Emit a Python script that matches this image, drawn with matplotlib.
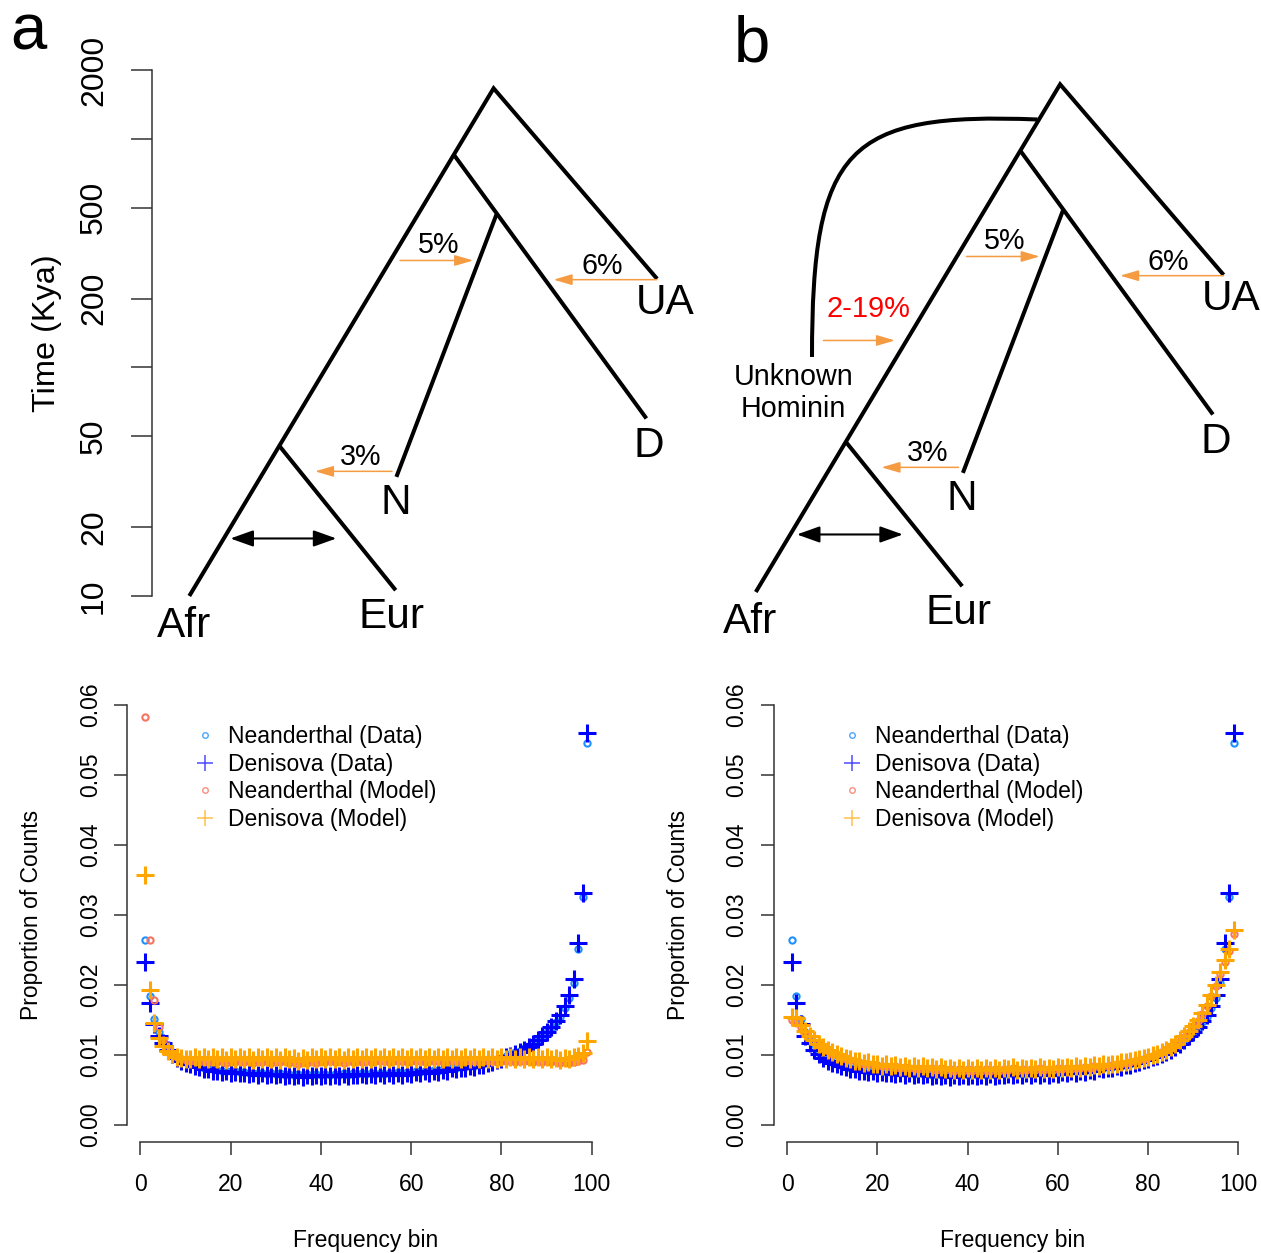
import matplotlib
matplotlib.use("Agg")
import matplotlib.pyplot as plt
from matplotlib.lines import Line2D
from matplotlib.patches import PathPatch
from matplotlib.path import Path
from matplotlib.ticker import NullLocator

plt.rcParams['font.family'] = ['Liberation Sans', 'DejaVu Sans']

# ---------------- tree diagram data ----------------
# horizontal position (arbitrary units) and time in Kya
node_names = ["Root", "Node1", "UA", "D", "Nsplit", "N", "Afr", "Eursplit", "Eur"]
node_x = [341.6, 301.6, 505.1, 494.4, 344.4, 244.4, 37.3, 127.3, 243.7]
node_time = [1663, 855, 244, 59.8, 466, 33.2, 10, 45.4, 10.6]
tree_paths = [["UA", "Root", "Afr"], ["Node1", "D"], ["Nsplit", "N"], ["Eursplit", "Eur"]]

tip_labels = ["UA", "D", "N", "Eur", "Afr"]
tip_label_x = [513, 497, 243.5, 240, 32]
tip_label_time = [190.5, 45.3, 25.6, 8.13, 7.39]

mig_labels = ["5%", "6%", "3%"]
mig_from_x = [248, 505, 240]
mig_to_x = [321.2, 401.6, 163]
mig_time = [293.6, 242, 35.1]
mig_label_x = [286.6, 449.8, 208.7]
mig_label_time = [343, 278.6, 40.6]

gene_flow_x = [78.4, 184.4]
gene_flow_time = 17.85

# panel b only: unknown hominin lineage
ghost_curve_x = [319.0, 128.0, 93.5, 93.5]
ghost_curve_time = [1166.8, 1258, 880.0, 106.7]
ghost_mig_label = "2-19%"
ghost_mig_x = [104.9, 176.5]
ghost_mig_time = 126
ghost_label_x, ghost_label_time = 149.5, 173
ghost_name = "Unknown\nHominin"
ghost_name_x, ghost_name_time = 75.2, 74.2

time_ticks = [10, 20, 50, 100, 200, 500, 1000, 2000]
time_tick_labels = ["10", "20", "50", "", "200", "500", "", "2000"]

# ---------------- site frequency spectrum data ----------------
freq_bin = list(range(1, 100))

neand_data = [
    .0265, .0184, .0152, .0133, .0120, .0110, .0103, .0098, .0094, .0090,
    .0088, .0086, .0084, .0082, .0081, .0080, .0079, .0078, .0078, .0077,
    .0077, .0076, .0076, .0075, .0075, .0074, .0075, .0073, .0074, .0073,
    .0074, .0072, .0073, .0072, .0073, .0072, .0073, .0072, .0073, .0072,
    .0073, .0072, .0073, .0072, .0074, .0072, .0074, .0073, .0074, .0073,
    .0074, .0073, .0075, .0073, .0075, .0074, .0076, .0074, .0076, .0075,
    .0077, .0076, .0078, .0077, .0079, .0078, .0080, .0080, .0082, .0082,
    .0084, .0083, .0086, .0085, .0088, .0088, .0091, .0092, .0095, .0096,
    .0099, .0101, .0104, .0106, .0110, .0113, .0117, .0122, .0127, .0133,
    .0139, .0147, .0155, .0167, .0182, .0203, .0252, .0325, .0546]

deni_data = [
    .0233, .0174, .0145, .0128, .0117, .0108, .0101, .0096, .0092, .0089,
    .0087, .0084, .0083, .0080, .0080, .0078, .0078, .0076, .0077, .0075,
    .0076, .0074, .0075, .0073, .0074, .0072, .0074, .0071, .0073, .0071,
    .0073, .0070, .0072, .0070, .0072, .0069, .0072, .0070, .0072, .0070,
    .0072, .0070, .0072, .0070, .0073, .0070, .0072, .0071, .0073, .0071,
    .0073, .0071, .0074, .0071, .0074, .0072, .0074, .0072, .0075, .0073,
    .0076, .0074, .0077, .0075, .0078, .0076, .0079, .0078, .0081, .0080,
    .0082, .0081, .0084, .0083, .0086, .0086, .0089, .0090, .0093, .0094,
    .0097, .0099, .0102, .0104, .0108, .0111, .0116, .0121, .0127, .0133,
    .0140, .0148, .0157, .0170, .0186, .0208, .0260, .0332, .0560]

neand_model_a = [
    .0582, .0265, .0179, .0140, .0121, .0109, .0101, .0097, .0094, .0093,
    .0091, .0092, .0090, .0092, .0090, .0091, .0090, .0092, .0089, .0091,
    .0090, .0092, .0090, .0091, .0089, .0092, .0090, .0091, .0089, .0092,
    .0090, .0091, .0089, .0091, .0088, .0090, .0089, .0091, .0089, .0091,
    .0090, .0092, .0090, .0091, .0089, .0092, .0090, .0091, .0090, .0092,
    .0090, .0092, .0091, .0092, .0090, .0092, .0091, .0092, .0090, .0092,
    .0091, .0092, .0090, .0092, .0091, .0092, .0090, .0092, .0091, .0092,
    .0090, .0092, .0091, .0092, .0090, .0092, .0091, .0092, .0090, .0092,
    .0091, .0092, .0090, .0092, .0091, .0092, .0090, .0091, .0090, .0092,
    .0090, .0091, .0089, .0091, .0089, .0090, .0091, .0093, .0104]

deni_model_a = [
    .0357, .0193, .0146, .0125, .0113, .0106, .0101, .0098, .0096, .0095,
    .0094, .0097, .0094, .0097, .0094, .0098, .0094, .0097, .0093, .0097,
    .0094, .0098, .0094, .0097, .0093, .0098, .0094, .0097, .0094, .0098,
    .0093, .0097, .0094, .0096, .0092, .0096, .0093, .0097, .0094, .0097,
    .0094, .0098, .0094, .0097, .0093, .0098, .0094, .0097, .0094, .0098,
    .0094, .0098, .0095, .0098, .0094, .0098, .0095, .0097, .0094, .0098,
    .0094, .0097, .0094, .0098, .0094, .0097, .0094, .0098, .0094, .0097,
    .0095, .0098, .0094, .0097, .0094, .0098, .0095, .0097, .0094, .0097,
    .0095, .0098, .0095, .0097, .0094, .0098, .0095, .0097, .0094, .0097,
    .0094, .0096, .0093, .0096, .0094, .0097, .0099, .0103, .0120]

neand_model_b = [
    .0150, .0149, .0140, .0131, .0125, .0119, .0114, .0110, .0106, .0102,
    .0100, .0097, .0095, .0093, .0091, .0090, .0088, .0088, .0086, .0086,
    .0084, .0085, .0083, .0084, .0082, .0083, .0081, .0082, .0080, .0082,
    .0080, .0081, .0079, .0081, .0079, .0080, .0078, .0080, .0078, .0080,
    .0078, .0080, .0078, .0080, .0078, .0080, .0078, .0080, .0079, .0081,
    .0078, .0080, .0079, .0080, .0079, .0081, .0079, .0080, .0079, .0081,
    .0080, .0081, .0080, .0082, .0081, .0083, .0082, .0084, .0083, .0085,
    .0085, .0086, .0087, .0088, .0089, .0090, .0092, .0093, .0095, .0097,
    .0099, .0101, .0104, .0107, .0111, .0115, .0120, .0126, .0133, .0141,
    .0149, .0159, .0170, .0184, .0198, .0216, .0233, .0249, .0273]

deni_model_b = [
    .0155, .0153, .0143, .0135, .0128, .0122, .0116, .0112, .0107, .0104,
    .0101, .0099, .0096, .0095, .0092, .0092, .0089, .0090, .0087, .0088,
    .0085, .0087, .0084, .0086, .0083, .0085, .0082, .0084, .0081, .0084,
    .0081, .0083, .0080, .0083, .0080, .0082, .0079, .0082, .0079, .0082,
    .0079, .0082, .0079, .0082, .0079, .0082, .0079, .0082, .0080, .0083,
    .0079, .0082, .0080, .0082, .0080, .0083, .0080, .0082, .0080, .0083,
    .0081, .0083, .0081, .0084, .0082, .0085, .0083, .0086, .0084, .0087,
    .0086, .0088, .0088, .0090, .0090, .0092, .0093, .0095, .0096, .0098,
    .0100, .0102, .0105, .0108, .0112, .0116, .0121, .0127, .0134, .0142,
    .0150, .0160, .0171, .0186, .0200, .0219, .0236, .0252, .0278]

series_labels = ["Neanderthal (Data)", "Denisova (Data)", "Neanderthal (Model)", "Denisova (Model)"]
y_ticks = [0.00, 0.01, 0.02, 0.03, 0.04, 0.05, 0.06]
y_tick_labels = ["0.00", "0.01", "0.02", "0.03", "0.04", "0.05", "0.06"]
x_ticks = [0, 20, 40, 60, 80, 100]

# ---------------- style ----------------
C_ND = '#1E90FF'
C_DD = '#0000FF'
C_NM = '#F8735F'
C_DM = '#FFA500'
C_MIG = '#F59B42'
AX_COL = '#333333'

W, H = 1261, 1253
fig = plt.figure(figsize=(W / 100, H / 100), dpi=100)


def rect(l, t, r, b):
    return [l / W, 1 - b / H, (r - l) / W, (b - t) / H]


def ftext(px, py, s, **kw):
    fig.text(px / W, 1 - py / H, s, **kw)


def draw_tree(ax, show_axis, ghost):
    ax.set_yscale('log')
    ax.set_ylim(10, 2000)
    ax.set_xlim(0, 540)
    pos = dict(zip(node_names, zip(node_x, node_time)))
    for path in tree_paths:
        xs = [pos[n][0] for n in path]
        ys = [pos[n][1] for n in path]
        ax.plot(xs, ys, color='black', lw=2.9, solid_capstyle='butt',
                solid_joinstyle='miter', clip_on=False)
    for lab, x0, x1, t, lx, lt in zip(mig_labels, mig_from_x, mig_to_x, mig_time,
                                      mig_label_x, mig_label_time):
        ax.annotate('', xy=(x1, t), xytext=(x0, t),
                    arrowprops=dict(arrowstyle='-|>,head_length=0.75,head_width=0.22',
                                    color=C_MIG, lw=1.1, shrinkA=0, shrinkB=0,
                                    mutation_scale=15), annotation_clip=False)
        ax.text(lx, lt, lab, fontsize=20.7, ha='center', va='center')
    ax.annotate('', xy=(gene_flow_x[1], gene_flow_time), xytext=(gene_flow_x[0], gene_flow_time),
                arrowprops=dict(arrowstyle='<|-|>,head_length=0.7,head_width=0.25',
                                color='black', lw=1.5, shrinkA=0, shrinkB=0,
                                mutation_scale=20), annotation_clip=False)
    for lab, x, t in zip(tip_labels, tip_label_x, tip_label_time):
        ax.text(x, t, lab, fontsize=30.5, ha='center', va='center')
    if ghost:
        verts = list(zip(ghost_curve_x, ghost_curve_time))
        p = Path(verts, [Path.MOVETO, Path.CURVE4, Path.CURVE4, Path.CURVE4])
        ax.add_patch(PathPatch(p, fill=False, lw=2.9, color='black', clip_on=False))
        ax.annotate('', xy=(ghost_mig_x[1], ghost_mig_time), xytext=(ghost_mig_x[0], ghost_mig_time),
                    arrowprops=dict(arrowstyle='-|>,head_length=0.75,head_width=0.22',
                                    color=C_MIG, lw=1.1, shrinkA=0, shrinkB=0,
                                    mutation_scale=15), annotation_clip=False)
        ax.text(ghost_label_x, ghost_label_time, ghost_mig_label, fontsize=20.9,
                color='#FF0000', ha='center', va='center')
        ax.text(ghost_name_x, ghost_name_time, ghost_name, fontsize=20.7,
                ha='center', va='center', linespacing=1.2)
    for s in ['top', 'right', 'bottom']:
        ax.spines[s].set_visible(False)
    ax.set_xticks([])
    ax.yaxis.set_minor_locator(NullLocator())
    if show_axis:
        ax.spines['left'].set_color(AX_COL)
        ax.spines['left'].set_linewidth(1.1)
        ax.set_yticks(time_ticks)
        ax.set_yticklabels(time_tick_labels)
        ax.tick_params(axis='y', length=15, width=1.1, color=AX_COL, labelsize=23,
                       pad=16, labelrotation=90)
        for lab in ax.get_yticklabels():
            lab.set_va('center')
    else:
        ax.spines['left'].set_visible(False)
        ax.set_yticks([])
    ax.patch.set_visible(False)


ax_ta = fig.add_axes(rect(152, 70, 692, 596))
draw_tree(ax_ta, True, False)
ax_tb = fig.add_axes(rect(718.5, 66, 1258.5, 592))
draw_tree(ax_tb, False, True)

ftext(46.7, 333, "Time (Kya)", fontsize=23.4, rotation=90, ha='center', va='center')
ftext(28.4, 49, "a", fontsize=47, ha='center', va='baseline')
ftext(752, 62, "b", fontsize=47, ha='center', va='baseline')


def draw_sfs(ax, nm, dm, leg_left):
    ax.plot(freq_bin, neand_data, ls='none', marker='o', mfc='none', mec=C_ND, ms=4.5, mew=1.5)
    ax.plot(freq_bin, deni_data, ls='none', marker='+', color=C_DD, ms=12.5, mew=2.2)
    ax.plot(freq_bin, nm, ls='none', marker='o', mfc='none', mec=C_NM, ms=4.5, mew=1.5)
    ax.plot(freq_bin, dm, ls='none', marker='+', color=C_DM, ms=12.5, mew=2.2)
    ax.set_xlim(-2.92, 102.92)
    ax.set_ylim(-0.0024, 0.0624)
    for s in ['top', 'right']:
        ax.spines[s].set_visible(False)
    ax.spines['left'].set_bounds(0, 0.06)
    ax.spines['bottom'].set_bounds(0, 100)
    for s in ['left', 'bottom']:
        ax.spines[s].set_color(AX_COL)
        ax.spines[s].set_linewidth(1.1)
    ax.set_yticks(y_ticks)
    ax.set_yticklabels(y_tick_labels)
    ax.set_xticks(x_ticks)
    ax.tick_params(axis='both', length=9.4, width=1.1, color=AX_COL, labelsize=16.5)
    ax.tick_params(axis='y', pad=9, labelrotation=90)
    ax.tick_params(axis='x', pad=13)
    for lab in ax.get_yticklabels():
        lab.set_va('center')
    handles = [
        Line2D([], [], ls='none', marker='o', mfc='none', mec=C_ND, ms=4, mew=1.0, alpha=0.8),
        Line2D([], [], ls='none', marker='+', color=C_DD, ms=11, mew=1.1, alpha=0.7),
        Line2D([], [], ls='none', marker='o', mfc='none', mec=C_NM, ms=4, mew=1.0, alpha=0.8),
        Line2D([], [], ls='none', marker='+', color=C_DM, ms=11, mew=1.1, alpha=0.7),
    ]
    ax.legend(handles, series_labels, loc='upper left', frameon=False, fontsize=16.5,
              borderpad=0, borderaxespad=0, handlelength=1.0, handletextpad=0.5,
              labelspacing=0.2, bbox_to_anchor=(leg_left / W, 1 - 725 / H),
              bbox_transform=fig.transFigure)


ax_sa = fig.add_axes(rect(127.3, 688, 604.9, 1142))
draw_sfs(ax_sa, neand_model_a, deni_model_a, 193.5)
ax_sb = fig.add_axes(rect(774, 688, 1251.6, 1142))
draw_sfs(ax_sb, neand_model_b, deni_model_b, 840.2)

for off in [0, 646.7]:
    ftext(31.7 + off, 915, "Proportion of Counts", fontsize=16.5, rotation=90, ha='center', va='center')
    ftext(366 + off, 1240, "Frequency bin", fontsize=16.5, ha='center', va='center')

fig.savefig("out.png", dpi=100)
